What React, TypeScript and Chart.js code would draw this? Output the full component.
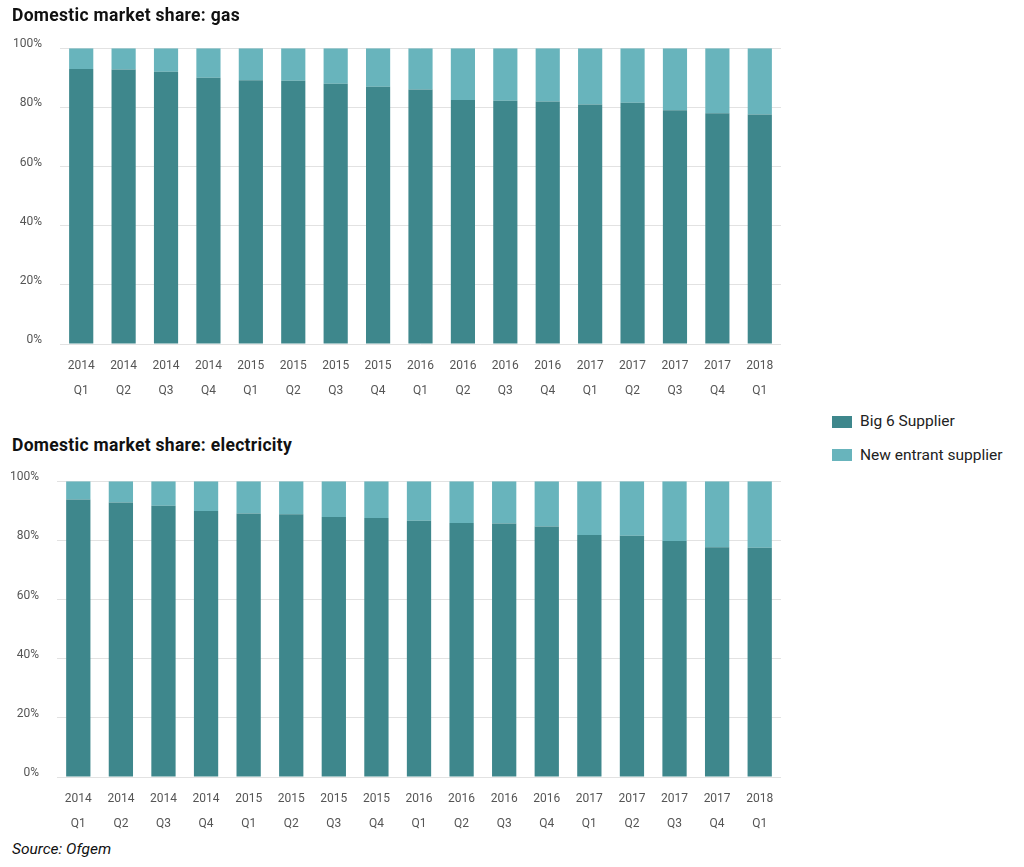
import React, { useEffect, useRef } from "react";
import { Chart, registerables } from "chart.js";

Chart.register(...registerables);

const years = ["2014", "2014", "2014", "2014", "2015", "2015", "2015", "2015", "2016", "2016", "2016", "2016", "2017", "2017", "2017", "2017", "2018"];
const quarters = ["Q1", "Q2", "Q3", "Q4", "Q1", "Q2", "Q3", "Q4", "Q1", "Q2", "Q3", "Q4", "Q1", "Q2", "Q3", "Q4", "Q1"];

const gasBig6 = [93, 92.8, 92, 90, 89.2, 89, 88, 87, 86, 82.5, 82.2, 82, 81, 81.6, 79, 78, 77.6];
const elecBig6 = [93.8, 92.8, 91.7, 89.9, 89.1, 88.8, 87.9, 87.6, 86.6, 85.9, 85.7, 84.7, 81.8, 81.6, 79.8, 77.7, 77.5];

const yTicks = [0, 20, 40, 60, 80, 100];

const BIG6_COLOR = "#3e878c";
const NEW_COLOR = "#68b4bc";
const FONT = "Roboto, 'DejaVu Sans', sans-serif";

function StackChart({ big6, leftPad }: { big6: number[]; leftPad: number }) {
  const ref = useRef<HTMLCanvasElement | null>(null);
  useEffect(() => {
    if (!ref.current) return;
    const labels = years.map((y, i) => [y, quarters[i]]);
    const newEntrant = big6.map((v) => +(100 - v).toFixed(2));
    const chart = new Chart(ref.current, {
      type: "bar",
      data: {
        labels,
        datasets: [
          { label: "Big 6 Supplier", data: big6, backgroundColor: BIG6_COLOR, barPercentage: 0.57, categoryPercentage: 1 },
          { label: "New entrant supplier", data: newEntrant, backgroundColor: NEW_COLOR, barPercentage: 0.57, categoryPercentage: 1 },
        ],
      },
      options: {
        animation: false,
        responsive: false,
        maintainAspectRatio: false,
        layout: { padding: { top: 11, right: 19, left: 0, bottom: 0 } },
        plugins: { legend: { display: false }, tooltip: { enabled: false } },
        scales: {
          x: {
            stacked: true,
            grid: { display: false, drawTicks: false },
            border: { display: false },
            ticks: {
              color: "#555",
              padding: 10,
              maxRotation: 0,
              autoSkip: false,
              font: { family: FONT, size: 12, lineHeight: 2.05 },
            },
            afterFit: (scale: any) => {
              scale.height = 60;
            },
          },
          y: {
            stacked: true,
            min: 0,
            max: 100,
            afterBuildTicks: (scale: any) => {
              scale.ticks = yTicks.map((v) => ({ value: v }));
            },
            grid: { color: "#e2e2e2", drawTicks: false, lineWidth: 1 },
            border: { display: false },
            ticks: {
              color: "#555",
              padding: 18,
              labelOffset: -4,
              callback: (v: any) => v + "%",
              font: { family: FONT, size: 12 },
            },
            afterFit: (scale: any) => {
              scale.width = leftPad;
            },
          },
        },
      },
    });
    return () => chart.destroy();
  }, [big6, leftPad]);
  return <canvas ref={ref} width={800} height={381} style={{ width: 800, height: 381, display: "block" }} />;
}

const titleStyle: React.CSSProperties = {
  position: "absolute",
  left: 12,
  fontFamily: FONT,
  fontWeight: 700,
  fontSize: 17.5,
  letterSpacing: 0.3,
  color: "#111",
  whiteSpace: "nowrap",
};

export default function App() {
  return (
    <div style={{ position: "absolute", left: 0, top: 0, width: 1024, height: 867, background: "#fff", overflow: "hidden" }}>
      <div style={{ position: "absolute", left: 0, top: 23 }}>
        <StackChart big6={gasBig6} leftPad={60} />
      </div>
      <div style={{ position: "absolute", left: 0, top: 456 }}>
        <StackChart big6={elecBig6} leftPad={57} />
      </div>
      <div style={{ ...titleStyle, top: 5 }}>Domestic market share: gas</div>
      <div style={{ ...titleStyle, top: 435 }}>Domestic market share: electricity</div>
      <div style={{ position: "absolute", left: 832, top: 416, width: 20, height: 12, background: BIG6_COLOR }} />
      <div style={{ position: "absolute", left: 860, top: 412, fontFamily: FONT, fontSize: 15.5, color: "#222", whiteSpace: "nowrap" }}>Big 6 Supplier</div>
      <div style={{ position: "absolute", left: 832, top: 449, width: 20, height: 12, background: NEW_COLOR }} />
      <div style={{ position: "absolute", left: 860, top: 446, fontFamily: FONT, fontSize: 15.5, color: "#222", whiteSpace: "nowrap" }}>New entrant supplier</div>
      <div style={{ position: "absolute", left: 12, top: 840, fontFamily: FONT, fontStyle: "italic", fontSize: 15.5, color: "#111", whiteSpace: "nowrap" }}>Source: Ofgem</div>
    </div>
  );
}
